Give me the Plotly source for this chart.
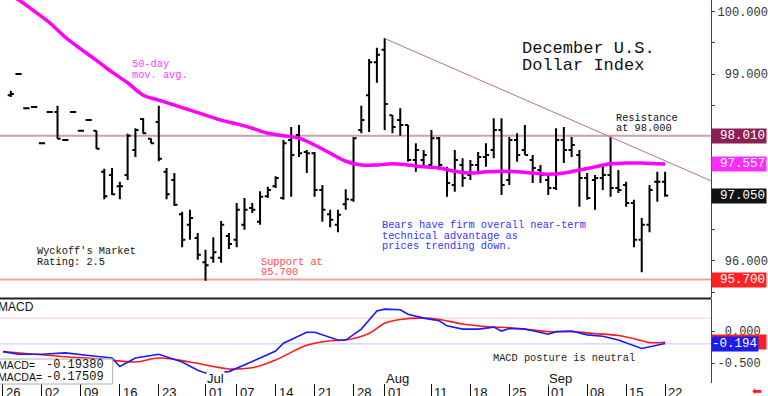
import plotly.graph_objects as go

# ---------------- data ----------------
# trading-day index: 0 = Mon 26 May (weekday slots, holidays kept)
bar_idx = list(range(1, 86))
opens = [98.66, 99.00, 98.45, 98.47, 97.89, 98.39, 98.39, 97.94, 98.39, 98.09,
         98.26, 98.09, 97.43, 97.38, 97.20, 97.38, 97.78, 98.28, 97.96, 98.23,
         97.43, 97.30, 96.75, 96.58, 96.37, 95.98, 96.05, 96.05, 96.40, 96.34,
         96.58, 96.85, 96.63, 97.04, 97.20, 97.01, 97.94, 98.02, 97.75, 97.73,
         97.14, 96.75, 96.58, 96.91, 96.98, 98.10, 98.66, 99.19, 99.39, 98.34,
         98.26, 98.18, 97.62, 97.62, 97.54, 97.97, 97.46, 97.22, 97.54, 97.38,
         97.54, 97.67, 97.78, 98.10, 97.30, 97.94, 97.78, 97.62, 97.46, 97.30,
         97.17, 97.94, 97.78, 97.70, 97.33, 97.30, 97.33, 97.38, 97.17, 97.22,
         96.93, 96.34, 96.58, 97.27, 97.27]
highs = [98.73, 99.00, 98.45, 98.47, 97.89, 98.39, 98.49, 97.94, 98.39, 98.09,
         98.26, 98.09, 97.48, 97.49, 97.27, 98.04, 98.13, 98.29, 97.97, 98.49,
         97.49, 97.41, 96.79, 96.82, 96.45, 96.18, 96.38, 96.64, 96.45, 96.93,
         97.01, 96.93, 97.12, 97.19, 97.36, 97.94, 98.15, 98.18, 97.78, 97.75,
         97.22, 96.82, 96.82, 97.15, 97.99, 98.49, 99.24, 99.42, 99.58, 98.34,
         98.45, 98.18, 97.89, 97.78, 98.10, 97.99, 97.51, 97.78, 97.65, 97.62,
         97.75, 97.89, 98.29, 98.29, 97.99, 98.05, 98.18, 97.70, 97.54, 97.38,
         98.13, 98.15, 97.99, 97.78, 97.41, 97.38, 97.51, 97.99, 97.46, 97.27,
         96.98, 96.69, 97.22, 97.43, 97.43]
lows = [98.63, 99.00, 98.45, 98.47, 97.89, 98.39, 97.96, 97.94, 98.39, 98.09,
        98.26, 97.80, 96.99, 97.06, 96.99, 97.30, 97.67, 98.04, 97.89, 97.60,
        96.99, 96.88, 96.22, 96.34, 96.02, 95.68, 95.97, 95.97, 96.19, 96.22,
        96.50, 96.77, 96.58, 97.01, 97.17, 96.98, 97.03, 97.67, 97.41, 97.03,
        96.63, 96.54, 96.46, 96.82, 96.95, 98.05, 98.07, 98.86, 98.10, 98.05,
        98.01, 97.59, 97.43, 97.49, 97.51, 97.46, 97.03, 97.11, 97.19, 97.30,
        97.41, 97.51, 97.65, 97.06, 97.22, 97.59, 97.70, 97.25, 97.25, 97.06,
        97.14, 97.57, 97.67, 96.87, 96.98, 96.82, 97.14, 97.03, 97.09, 96.87,
        96.22, 95.82, 96.46, 96.95, 97.03]
closes = [98.68, 99.00, 98.45, 98.47, 97.89, 98.39, 97.96, 97.94, 98.39, 98.09,
          98.26, 97.80, 97.04, 97.07, 97.20, 98.01, 98.10, 98.05, 97.89, 97.64,
          97.07, 96.90, 96.34, 96.69, 96.10, 95.93, 96.14, 96.58, 96.27, 96.82,
          96.82, 96.82, 97.03, 97.14, 97.33, 97.89, 97.70, 97.73, 97.73, 97.14,
          96.82, 96.66, 96.74, 96.99, 97.97, 98.26, 99.19, 99.31, 98.52, 98.15,
          98.18, 97.62, 97.78, 97.70, 97.97, 97.54, 97.25, 97.62, 97.33, 97.54,
          97.67, 97.70, 98.10, 97.22, 97.94, 97.70, 97.70, 97.49, 97.38, 97.17,
          97.94, 97.78, 97.86, 97.33, 97.01, 97.33, 97.38, 97.17, 97.14, 96.93,
          96.34, 96.58, 97.14, 97.27, 97.05]

ma_idx = [0, 2, 4, 6, 8, 10, 12, 14, 16, 18, 20, 22, 24, 26, 28, 30, 32, 34, 36, 38,
          40, 42, 44, 46, 48, 50, 52, 54, 56, 58, 60, 62, 64, 66, 68, 70, 72, 74, 76,
          78, 80, 82, 84, 85]
ma_vals = [100.35, 100.19, 100.01, 99.82, 99.59, 99.40, 99.22, 99.03, 98.86, 98.66,
           98.58, 98.50, 98.42, 98.34, 98.26, 98.20, 98.13, 98.05, 98.01, 97.97,
           97.86, 97.73, 97.60, 97.54, 97.54, 97.56, 97.54, 97.51, 97.49, 97.44,
           97.41, 97.43, 97.44, 97.43, 97.41, 97.39, 97.41, 97.46, 97.51, 97.56,
           97.57, 97.57, 97.56, 97.557]

macd_idx = [0, 2, 5, 8, 11, 14, 15, 17, 20, 23, 25, 26, 29, 31, 33, 35, 36, 39, 40, 43,
            44, 46, 48, 49, 51, 52, 54, 56, 57, 59, 61, 63, 64, 65, 67, 70, 71, 73, 75,
            77, 79, 82, 84, 85]
macd_vals = [-0.32, -0.36, -0.36, -0.34, -0.38, -0.42, -0.55, -0.42, -0.36, -0.48,
             -0.61, -0.65, -0.63, -0.53, -0.42, -0.31, -0.19, -0.02, -0.02, -0.14,
             -0.14, 0.03, 0.31, 0.34, 0.33, 0.26, 0.20, 0.16, 0.08, 0.03,
             0.03, 0.06, 0.00, 0.04, 0.03, -0.05, -0.01, 0.00, -0.06, -0.08,
             -0.14, -0.27, -0.22, -0.194]
sig_idx = [0, 4, 8, 12, 17, 20, 24, 27, 29, 32, 33, 35, 39, 42, 44, 47, 49, 51, 54, 56,
           59, 62, 65, 67, 70, 73, 76, 79, 82, 83, 85]
sig_vals = [-0.32, -0.36, -0.40, -0.43, -0.48, -0.42, -0.48, -0.55, -0.59, -0.57,
            -0.54, -0.45, -0.22, -0.15, -0.14, -0.04, 0.12, 0.18, 0.20, 0.18,
            0.11, 0.07, 0.05, 0.03, -0.01, -0.01, -0.04, -0.07, -0.15, -0.18, -0.175]

trend_x = [49, 91]
trend_y = [99.57, 97.28]
resistance = 98.01
support = 95.70
last_close = 97.05
last_ma = 97.557
last_macd = -0.194
last_macda = -0.175
macd_refs = [0.2, -0.2]

tick_idx = [0, 5, 10, 15, 20, 26, 30, 35, 40, 45, 49, 55, 60, 65, 70, 75, 80, 85]
tick_text = ["26", "02", "09", "16", "23", "01", "07", "14", "21", "28",
             "01", "11", "18", "25", "01", "08", "15", "22"]
month_idx = [26, 49, 70]
month_text = ["Jul", "Aug", "Sep"]
price_tickvals = [95.5, 96.0, 96.5, 97.0, 97.5, 98.0, 98.5, 99.0, 99.5, 100.0]
price_ticktext = ["", " 96.000", "", "", "", "", "", " 99.000", "", "100.000"]
macd_tickvals = [-0.5, 0.0]
macd_ticktext = ["-0.500", " 0.000"]

# ---------------- layout helpers ----------------
W, H = 768, 396
def px(x):
    return x / W
def py(y):
    return 1 - y / H

MONO = "Liberation Mono"
SANS = "Liberation Sans"
XR = [-0.384, 90.91]
XR_END = px(713)

fig = go.Figure()
fig.add_trace(go.Ohlc(
    x=bar_idx, open=opens, high=highs, low=lows, close=closes,
    increasing=dict(line=dict(color="black", width=2)),
    decreasing=dict(line=dict(color="black", width=2)),
    tickwidth=0.4, hoverinfo="skip", xaxis="x", yaxis="y"))
fig.add_trace(go.Scatter(x=ma_idx, y=ma_vals, mode="lines",
                         line=dict(color="#ff00ff", width=3.5, shape="spline"),
                         hoverinfo="skip", xaxis="x", yaxis="y"))
fig.add_trace(go.Scatter(x=trend_x, y=trend_y, mode="lines",
                         line=dict(color="#b8708f", width=1),
                         hoverinfo="skip", xaxis="x", yaxis="y"))
fig.add_trace(go.Scatter(x=sig_idx, y=sig_vals, mode="lines",
                         line=dict(color="#ff1a1a", width=1.6, shape="spline"),
                         hoverinfo="skip", xaxis="x2", yaxis="y2"))
fig.add_trace(go.Scatter(x=macd_idx, y=macd_vals, mode="lines",
                         line=dict(color="#1a1aff", width=1.6),
                         hoverinfo="skip", xaxis="x2", yaxis="y2"))

shapes = [
    dict(type="line", xref="paper", yref="y", x0=0, x1=XR_END, y0=resistance, y1=resistance,
         line=dict(color="#c9a2b6", width=2), layer="below"),
    dict(type="line", xref="paper", yref="y", x0=0, x1=XR_END, y0=support, y1=support,
         line=dict(color="#ff9c9c", width=2), layer="below"),
    dict(type="line", xref="paper", yref="y2", x0=0, x1=XR_END, y0=macd_refs[0], y1=macd_refs[0],
         line=dict(color="#ffc8c8", width=1), layer="below"),
    dict(type="line", xref="paper", yref="y2", x0=0, x1=XR_END, y0=macd_refs[1], y1=macd_refs[1],
         line=dict(color="#c4c4ff", width=1), layer="below"),
    dict(type="line", xref="paper", yref="paper", x0=0, x1=XR_END, y0=py(298.5), y1=py(298.5),
         line=dict(color="#222222", width=2)),
    dict(type="rect", xref="paper", yref="paper", x0=px(-2), x1=px(113), y0=py(384), y1=py(359),
         fillcolor="white", line=dict(color="#b0b0b0", width=1), layer="above"),
]

ann = []
def text(x, y, s, color="#111111", size=10.3, family=MONO, **kw):
    ann.append(dict(xref="paper", yref="paper", x=px(x), y=py(y), text=s, showarrow=False,
                    xanchor=kw.pop("xanchor", "left"), yanchor=kw.pop("yanchor", "middle"),
                    font=dict(family=family, size=size, color=color), **kw))

text(521, 49, "December U.S.", size=17)
text(521, 66, "Dollar Index", size=17)
text(130, 64, "50-day", color="#ff40ff")
text(130, 75, "mov. avg.", color="#ff40ff")
text(616, 118, "Resistance")
text(616, 128, "at 98.000")
text(35, 251, "Wyckoff's Market")
text(35, 262, "Rating: 2.5")
text(260, 262, "Support at", color="#ff4a4a")
text(260, 272, "95.700", color="#ff4a4a")
text(381, 225, "Bears have firm overall near-term", color="#3434ff")
text(381, 236, "technical advantage as", color="#3434ff")
text(381, 246, "prices trending down.", color="#3434ff")
text(492, 358, "MACD posture is neutral", color="#222222")
text(-4, 307, "MACD", size=12, family=SANS)
text(-4, 365, "MACD=", size=10.5, family=SANS)
text(-4, 377, "MACDA=", size=10.5, family=SANS)
text(106, 365, "-0.19380", size=12, xanchor="right")
text(106, 377, "-0.17509", size=12, xanchor="right")
text(759, 391, "⬅", color="#ff2020", size=12, family="DejaVu Sans", xanchor="center")

# right-side value boxes
def vbox(y, s, bg, yref="y", width=52):
    ann.append(dict(xref="paper", yref=yref, x=XR_END, y=y, text=s, showarrow=False,
                    xanchor="left", yanchor="middle", width=width, height=12, align="right",
                    bgcolor=bg, borderpad=1,
                    font=dict(family=MONO, size=12.5, color="white")))
vbox(resistance, "98.010", "#8e1f55")
vbox(last_ma, "97.557", "#ff2cff")
vbox(last_close, "97.050", "#111111")
vbox(support, "95.700", "#ff2222")
vbox(last_macda, "", "#ff2020", yref="y2")
vbox(last_macd, "-0.194", "#1c1cee", yref="y2", width=44)

# date tick labels and month labels
for i, t in zip(tick_idx, tick_text):
    ann.append(dict(xref="x2", yref="paper", x=i, y=py(383), text=t, showarrow=False,
                    xanchor="left", yanchor="top", xshift=1,
                    font=dict(family=SANS, size=13, color="#111111")))
for i, t in zip(month_idx, month_text):
    ann.append(dict(xref="x2", yref="paper", x=i, y=py(378), text=t, showarrow=False,
                    xanchor="left", yanchor="middle", xshift=0, bgcolor="white", borderpad=0,
                    font=dict(family=SANS, size=13, color="#111111")))

axis_font = dict(family=MONO, size=12, color="#333333")
fig.update_layout(
    width=W, height=H, margin=dict(l=0, r=0, t=0, b=0),
    paper_bgcolor="white", plot_bgcolor="white", showlegend=False,
    shapes=shapes, annotations=ann,
    xaxis=dict(domain=[0, XR_END], range=XR, anchor="y", showticklabels=False,
               showgrid=False, zeroline=False, ticks="", rangeslider=dict(visible=False)),
    yaxis=dict(domain=[py(298), 1], range=[95.405, 100.188], side="right", anchor="x",
               showgrid=False, zeroline=False, showline=True, linecolor="#444444", linewidth=1,
               ticks="outside", ticklen=3, tickcolor="#444444",
               tickvals=price_tickvals, ticktext=price_ticktext, tickfont=axis_font),
    xaxis2=dict(domain=[0, XR_END], range=XR, anchor="y2", showticklabels=False,
                showgrid=False, zeroline=False, showline=False,
                ticks="outside", ticklen=13, tickcolor="#111111", tickwidth=1,
                tickvals=tick_idx),
    yaxis2=dict(domain=[py(383), py(299)], range=[-0.807, 0.497], side="right", anchor="x2",
                showgrid=False, zeroline=False, showline=True, linecolor="#444444", linewidth=1,
                ticks="outside", ticklen=3, tickcolor="#444444",
                tickvals=macd_tickvals, ticktext=macd_ticktext, tickfont=axis_font),
)

fig.write_html("out.html", config={"displayModeBar": False},
               post_script="document.body.style.margin='0';document.body.style.overflow='hidden';")
